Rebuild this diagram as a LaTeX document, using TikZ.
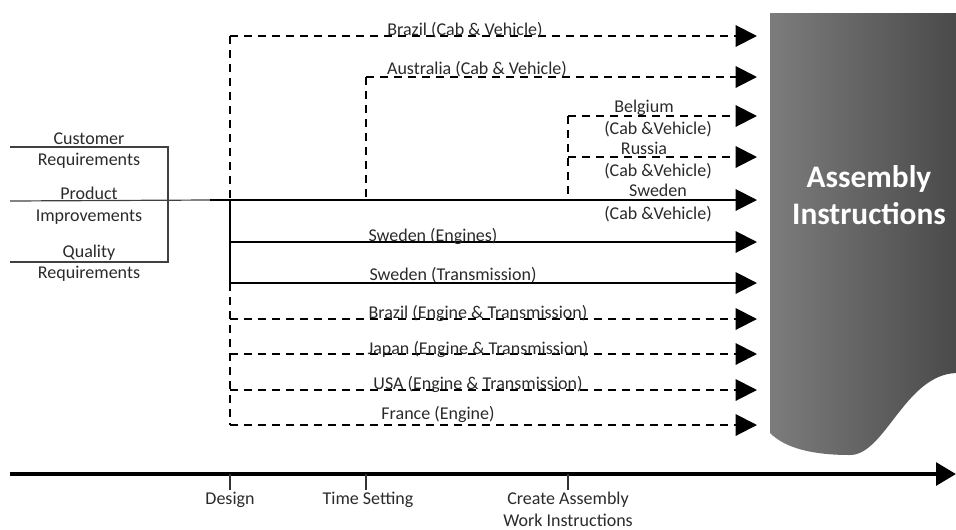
\documentclass[tikz,border=0pt]{standalone}
\usepackage{fontspec}
\setmainfont{Carlito}
\usetikzlibrary{arrows.meta}
\definecolor{shadeL}{HTML}{7C7C7C}
\definecolor{shadeR}{HTML}{4A4A4A}
\definecolor{txt}{HTML}{2A2A2A}
\begin{document}
\begin{tikzpicture}[x=0.75pt,y=-0.75pt,
  flow/.style={line width=1.5pt,-{Triangle[length=16pt,width=16pt]}},
  dsh/.style={dash pattern=on 6pt off 4.5pt},
  vline/.style={line width=1.5pt},
  lbl/.style={font=\fontsize{13.5}{15}\selectfont,text=txt,inner sep=0pt,anchor=base},
  tlbl/.style={font=\fontsize{13.5}{15}\selectfont,text=txt,inner sep=0pt,anchor=base},
  brk/.style={line width=0.9pt,draw=black!75},
  tick/.style={line width=0.8pt,draw=black!80}]
\useasboundingbox (0,0) rectangle (956,529);

% Assembly Instructions shape
\shade[left color=shadeL,right color=shadeR]
  (770,13) -- (956,13) -- (956,373)
  .. controls (905,375) and (885,455) .. (850,455)
  .. controls (812,455) and (785,448) .. (770,433) -- cycle;
\node[font=\bfseries\fontsize{23.5}{28}\selectfont,text=white,align=center] (ai) at (869,195) {Assembly\\Instructions};

% bracket on left
\draw[brk] (10,147) -- (168,147) -- (168,262) -- (10,262);
\coordinate (bl) at (10,201);
\coordinate (bm) at (210,200);
\draw[brk] (bl) -- (bm);
\node[lbl] (c1) at (89,144) {Customer};
\node[lbl] (c2) at (89,165) {Requirements};
\node[lbl] (p1) at (89,199) {Product};
\node[lbl] (p2) at (89,221) {Improvements};
\node[lbl] (q1) at (89,257) {Quality};
\node[lbl] (q2) at (89,278) {Requirements};

% start coordinates
\coordinate (sBr) at (230,36);
\coordinate (sAu) at (366,77);
\coordinate (sBe) at (568,116);
\coordinate (sRu) at (568,157);
\coordinate (sMain) at (230,200);
\coordinate (sAuB) at (366,200);
\coordinate (sBeB) at (568,200);
\coordinate (sEn) at (230,242);
\coordinate (sTr) at (230,283);
\coordinate (sBrE) at (230,319);
\coordinate (sJp) at (230,354);
\coordinate (sUs) at (230,390);
\coordinate (sFr) at (230,425);
% end coordinates
\coordinate (eBr) at (757,36);
\coordinate (eAu) at (757,77);
\coordinate (eBe) at (757,116);
\coordinate (eRu) at (757,157);
\coordinate (eMain) at (757,200);
\coordinate (eEn) at (757,242);
\coordinate (eTr) at (757,283);
\coordinate (eBrE) at (757,319);
\coordinate (eJp) at (757,354);
\coordinate (eUs) at (757,390);
\coordinate (eFr) at (757,425);

% vertical connectors
\draw[vline,dsh] (sBr) -- (sMain);
\draw[vline] (sMain) -- (sTr);
\draw[vline,dsh] (sTr) -- (sFr);
\draw[vline,dsh] (sAu) -- (sAuB);
\draw[vline,dsh] (sBe) -- (sBeB);

% horizontal flows
\draw[flow,dsh] (sBr) -- (eBr);
\draw[flow,dsh] (sAu) -- (eAu);
\draw[flow,dsh] (sBe) -- (eBe);
\draw[flow,dsh] (sRu) -- (eRu);
\draw[flow] (bm) -- (eMain);
\draw[flow] (sEn) -- (eEn);
\draw[flow] (sTr) -- (eTr);
\draw[flow,dsh] (sBrE) -- (eBrE);
\draw[flow,dsh] (sJp) -- (eJp);
\draw[flow,dsh] (sUs) -- (eUs);
\draw[flow,dsh] (sFr) -- (eFr);

% labels
\node[lbl] (lBr) at (465,35) {Brazil (Cab \& Vehicle)};
\node[lbl] (lAu) at (477,74) {Australia (Cab \& Vehicle)};
\node[lbl] (lBe1) at (644,112) {Belgium};
\node[lbl] (lBe2) at (658,134) {(Cab \&Vehicle)};
\node[lbl] (lRu1) at (644,154) {Russia};
\node[lbl] (lRu2) at (658,176) {(Cab \&Vehicle)};
\node[lbl] (lSw1) at (658,196) {Sweden};
\node[lbl] (lSw2) at (658,219) {(Cab \&Vehicle)};
\node[lbl] (lEn) at (433,241) {Sweden (Engines)};
\node[lbl] (lTr) at (453,280) {Sweden (Transmission)};
\node[lbl] (lBrE) at (478,318) {Brazil (Engine \& Transmission)};
\node[lbl] (lJp) at (478,354) {Japan (Engine \& Transmission)};
\node[lbl] (lUs) at (478,389) {USA (Engine \& Transmission)};
\node[lbl] (lFr) at (438,419) {France (Engine)};

% timeline
\coordinate (t0) at (10,474);
\coordinate (t1) at (956,474);
\draw[line width=3pt,-{Triangle[length=15pt,width=17pt]}] (t0) -- (t1);
\coordinate (k1) at (230,474);
\coordinate (k2) at (366,474);
\coordinate (k3) at (568,474);
\coordinate (k1b) at (230,490);
\coordinate (k2b) at (366,490);
\coordinate (k3b) at (568,490);
\draw[tick] (k1) -- (k1b);
\draw[tick] (k2) -- (k2b);
\draw[tick] (k3) -- (k3b);
\node[tlbl] (tD) at (230,504) {Design};
\node[tlbl] (tT) at (368,504) {Time Setting};
\node[tlbl] (tC1) at (568,504) {Create Assembly};
\node[tlbl] (tC2) at (568,526) {Work Instructions};
\end{tikzpicture}
\end{document}
